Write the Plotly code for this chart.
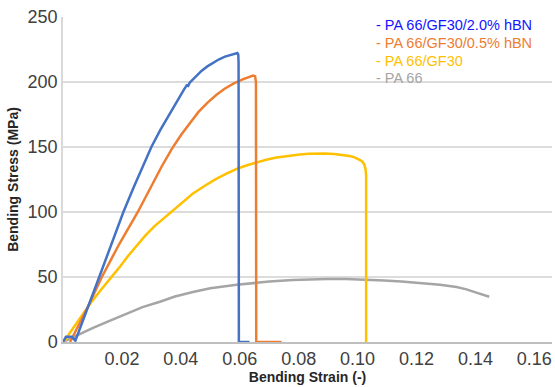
import plotly.graph_objects as go

# ---- data (strain [-], stress [MPa]) ----
blue_x = [0.0, 0.001, 0.003, 0.0042, 0.0123, 0.0165, 0.0205, 0.024, 0.027, 0.030, 0.033, 0.036, 0.039,
          0.041, 0.042, 0.0425, 0.043, 0.045, 0.047, 0.049, 0.051, 0.053, 0.055, 0.057, 0.0585,
          0.0592, 0.0595, 0.0596, 0.0597, 0.0633]
blue_y = [0, 4, 4, 1, 50, 75, 100, 119, 135, 150, 163, 175, 186,
          194, 197.5, 197, 199.5, 204, 208.5, 212, 215, 217.5, 219.5, 221, 222,
          222.3, 221, 215, 0, 0]

orange_x = [0.0024, 0.008, 0.0132, 0.019, 0.0254, 0.030, 0.0335, 0.0368, 0.040, 0.043, 0.046, 0.049,
            0.052, 0.055, 0.058, 0.061, 0.063, 0.0645, 0.0652, 0.0655, 0.0656, 0.0742]
orange_y = [0, 25, 50, 75, 100, 120, 135, 148, 159, 168, 177, 184,
            190, 195, 199, 202, 204, 205, 204.5, 200, 0, 0]

yellow_x = [0.0, 0.001, 0.002, 0.005, 0.0094, 0.0125, 0.0159, 0.019, 0.022, 0.025, 0.028, 0.031,
            0.0346, 0.038, 0.0407, 0.044, 0.048, 0.052, 0.056, 0.0593, 0.0625, 0.0658, 0.069,
            0.072, 0.076, 0.0803, 0.0835, 0.0861, 0.089, 0.092, 0.095, 0.0973, 0.099, 0.100,
            0.101, 0.1017, 0.1023, 0.1027, 0.1029, 0.1029]
yellow_y = [0, 2, 6, 16, 30, 39, 48, 57, 66, 74, 82, 89,
            96, 103, 108, 114, 120, 125.5, 130, 133.5, 136, 138.3, 140.2,
            141.7, 143.2, 144.3, 144.8, 145, 145, 144.6, 143.9, 143, 142, 141,
            139.8, 138.5, 136.5, 133, 128, 0]

gray_x = [0.0, 0.005, 0.0102, 0.016, 0.0217, 0.027, 0.0329, 0.038, 0.0441, 0.050, 0.059, 0.065,
          0.070, 0.078, 0.084, 0.0895, 0.096, 0.103, 0.109, 0.1149, 0.1234, 0.128, 0.1336,
          0.137, 0.1403, 0.1447]
gray_y = [0, 5.5, 10.8, 16.5, 22, 26.8, 31, 35, 38.5, 41.3, 44, 45.5,
          46.5, 47.7, 48.2, 48.5, 48.5, 48, 47.3, 46.5, 45, 44, 42.3,
          40.5, 38, 34.8]

series_names = ["PA 66/GF30/2.0% hBN", "PA 66/GF30/0.5% hBN", "PA 66/GF30", "PA 66"]
line_colors = ["#4472C4", "#ED7D31", "#FFC000", "#A5A5A5"]
text_colors = ["#1414FF", "#ED7D31", "#FFC000", "#A5A5A5"]

x_tickvals = [0.02, 0.04, 0.06, 0.08, 0.10, 0.12, 0.14, 0.16]
x_ticktext = ["0.02", "0.04", "0.06", "0.08", "0.10", "0.12", "0.14", "0.16"]
y_tickvals = [0, 50, 100, 150, 200, 250]

xs = [blue_x, orange_x, yellow_x, gray_x]
ys = [blue_y, orange_y, yellow_y, gray_y]

fig = go.Figure()
# draw gray first so colored lines are on top
for i in [3, 2, 1, 0]:
    fig.add_trace(go.Scatter(x=xs[i], y=ys[i], mode="lines", name=series_names[i],
                             line=dict(color=line_colors[i], width=2.5),
                             showlegend=False))

legend_y = [0.975, 0.92, 0.865, 0.812]
for i in range(4):
    fig.add_annotation(xref="paper", yref="paper", x=0.637, y=legend_y[i],
                       xanchor="left", yanchor="middle", showarrow=False,
                       text="- " + series_names[i],
                       font=dict(family="Arial, Liberation Sans", size=14.5, color=text_colors[i]))

fig.update_layout(
    width=555, height=387,
    margin=dict(l=63, r=3, t=17, b=45),
    paper_bgcolor="white", plot_bgcolor="white",
    font=dict(family="Arial, Liberation Sans", color="#404040"),
    showlegend=False,
)
fig.update_xaxes(range=[0, 0.166], tickvals=x_tickvals, ticktext=x_ticktext,
                 showgrid=False, zeroline=False, showline=True, linecolor="#BFBFBF", linewidth=1.5,
                 ticks="", tickfont=dict(size=18, color="#404040"),
                 title=dict(text="<b>Bending Strain (-)</b>", font=dict(size=14, color="#262626"), standoff=4))
fig.update_yaxes(range=[0, 250], tickvals=y_tickvals,
                 showgrid=True, gridcolor="#DCDCDC", gridwidth=1.5, zeroline=False,
                 showline=True, linecolor="#D9D9D9", linewidth=1.5,
                 ticks="", tickfont=dict(size=18, color="#404040"),
                 title=dict(text="<b>Bending Stress (MPa)</b>", font=dict(size=14, color="#262626"), standoff=6))

fig.write_html("out.html")
